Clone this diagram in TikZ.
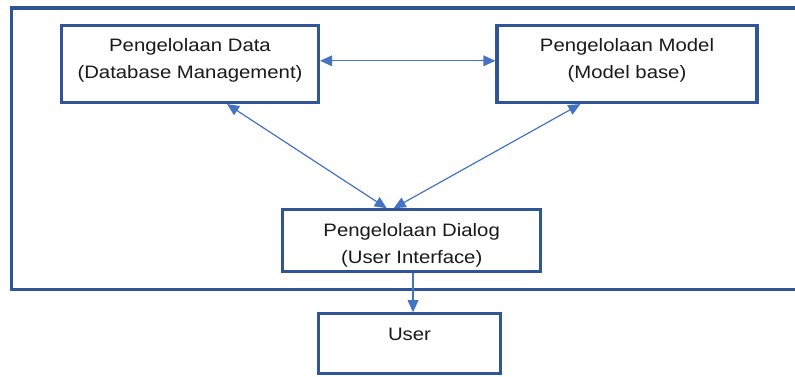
\documentclass[tikz,border=0pt]{standalone}
\usepackage{fontspec}
\setmainfont[FakeStretch=1.13]{Liberation Sans}
\usetikzlibrary{arrows.meta}
\definecolor{boxblue}{HTML}{2F5597}
\definecolor{arrowblue}{HTML}{4472C4}
\definecolor{textgray}{HTML}{1A1A1A}
\tikzset{
  box/.style={draw=boxblue, line width=2.4pt, fill=white, align=center,
    text=textgray, font=\fontsize{13.5}{20}\selectfont, inner sep=0pt},
  link/.style={draw=arrowblue, line width=0.9pt,
    -{Triangle[length=9pt,width=8pt]}},
  biLink/.style={link,
    {Triangle[length=9pt,width=8pt]}-{Triangle[length=9pt,width=8pt]}},
}

\begin{document}
\begin{tikzpicture}[x=0.75pt,y=-0.75pt]
\useasboundingbox (0,0) rectangle (795,376);
\draw[boxblue, line width=2.4pt] (796,8) -- (11.7,8) -- (11.7,289.3) -- (796,289.3);
\node[box, minimum width=192.75pt, minimum height=58pt, text depth=8pt] (data) at (190,63.8)
  {Pengelolaan Data\\(Database Management)};
\node[box, minimum width=195pt, minimum height=58pt, text depth=8pt] (model) at (627,63.8)
  {Pengelolaan Model\\(Model base)};
\node[box, minimum width=193.5pt, minimum height=46pt] (dialog) at (411.7,240.5)
  {\rule{0pt}{17pt}Pengelolaan Dialog\\(User Interface)};
\node[box, minimum width=137pt, minimum height=44.8pt, text depth=14pt] (user) at (409.5,343.7)
  {User};
\draw[biLink] ([yshift=2.25pt]data.east) -- ([yshift=2.25pt]model.west);
\draw[biLink] ([xshift=27.75pt]data.south) -- ([xshift=-18.75pt]dialog.north);
\draw[biLink] ([xshift=-35pt]model.south) -- ([xshift=-13.5pt]dialog.north);
\draw[link] ([xshift=1pt]dialog.south) -- ([xshift=1pt]dialog.south |- user.north);
\end{tikzpicture}
\end{document}
